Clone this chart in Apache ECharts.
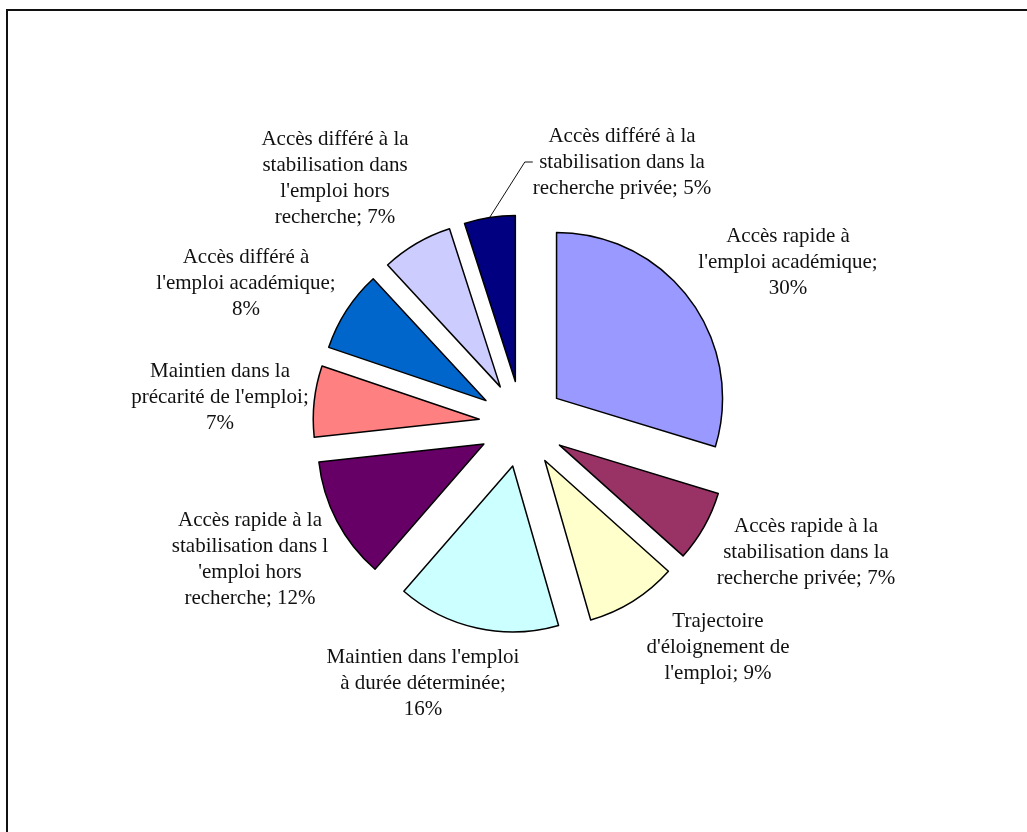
<!DOCTYPE html>
<html>
<head>
<meta charset="utf-8">
<script src="https://cdn.jsdelivr.net/npm/echarts@6/dist/echarts.min.js"></script>
<style>
html,body{margin:0;padding:0;background:#fff;}
#c{width:1027px;height:832px;}
</style>
</head>
<body>
<div id="c"></div>
<script>
// Categories (clockwise from 12 o'clock)
var categories = [
  "Accès rapide à l'emploi académique",
  "Accès rapide à la stabilisation dans la recherche privée",
  "Trajectoire d'éloignement de l'emploi",
  "Maintien dans l'emploi à durée déterminée",
  "Accès rapide à la stabilisation dans l 'emploi hors recherche",
  "Maintien dans la précarité de l'emploi",
  "Accès différé à l'emploi académique",
  "Accès différé à la stabilisation dans l'emploi hors recherche",
  "Accès différé à la stabilisation dans la recherche privée"
];
// Percent values
var values = [30, 7, 9, 16, 12, 7, 8, 7, 5];
// Wrapped label text (as displayed)
var labelText = [
  "Accès rapide à\nl'emploi académique;\n",
  "Accès rapide à la\nstabilisation dans la\nrecherche privée; ",
  "Trajectoire\nd'éloignement de\nl'emploi; ",
  "Maintien dans l'emploi\nà durée déterminée;\n",
  "Accès rapide à la\nstabilisation dans l\n'emploi hors\nrecherche; ",
  "Maintien dans la\nprécarité de l'emploi;\n",
  "Accès différé à\nl'emploi académique;\n",
  "Accès différé à la\nstabilisation dans\nl'emploi hors\nrecherche; ",
  "Accès différé à la\nstabilisation dans la\nrecherche privée; "
];
var colors = ["#9999FF", "#993366", "#FFFFCC", "#CCFFFF", "#660066", "#FF8080", "#0066CC", "#CCCCFF", "#000080"];
// Label anchor points (centre of each text block)
var labelAnchors = [[788, 262], [806, 552], [718, 647], [423, 683], [250, 559], [220, 397], [246, 283], [335, 178], [622, 162]];

var chart = echarts.init(document.getElementById('c'), null, {renderer: 'canvas'});

var sliceData = categories.map(function (n, i) {
  return {name: n, value: values[i], selected: true, itemStyle: {color: colors[i]}};
});
var labelData = categories.map(function (n, i) {
  return {name: n, value: values[i], labelLine: {show: i === 8}};
});

chart.setOption({
  animation: false,
  backgroundColor: '#ffffff',
  graphic: [{
    type: 'rect',
    shape: {x: 7, y: 10, width: 1040, height: 840},
    style: {fill: 'none', stroke: '#111', lineWidth: 2},
    silent: true
  }],
  series: [{
    type: 'pie',
    center: [522, 424],
    radius: [0, 166],
    startAngle: 90,
    clockwise: true,
    selectedMode: 'multiple',
    selectedOffset: 43,
    itemStyle: {borderColor: '#000', borderWidth: 1.5},
    emphasis: {disabled: true},
    select: {itemStyle: {borderColor: '#000', borderWidth: 1.5}},
    label: {show: false},
    labelLine: {show: false},
    data: sliceData
  }, {
    type: 'pie',
    center: [522, 424],
    radius: [0, 209],
    startAngle: 90,
    clockwise: true,
    silent: true,
    selectedMode: false,
    avoidLabelOverlap: false,
    itemStyle: {color: 'rgba(0,0,0,0)', borderWidth: 0},
    emphasis: {disabled: true},
    label: {
      show: true,
      position: 'outside',
      color: '#111',
      fontFamily: 'Liberation Serif',
      fontSize: 21,
      lineHeight: 26,
      align: 'center',
      formatter: function (p) { return labelText[p.dataIndex] + p.value + '%'; }
    },
    labelLine: {show: false, length: 10, length2: 8, lineStyle: {color: '#111', width: 1}},
    labelLayout: function (p) {
      var a = labelAnchors[p.dataIndex];
      return {x: a[0], y: a[1], align: 'center', verticalAlign: 'middle'};
    },
    data: labelData
  }]
});
</script>
</body>
</html>
